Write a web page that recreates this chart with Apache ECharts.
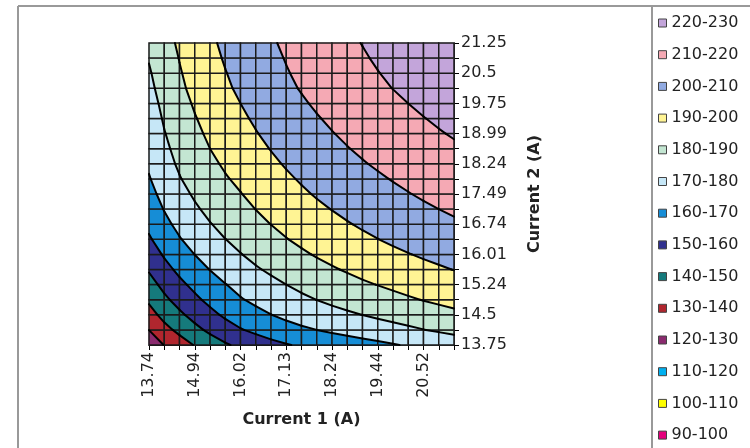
<!DOCTYPE html>
<html><head><meta charset="utf-8">
<script src="https://cdn.jsdelivr.net/npm/echarts@6/dist/echarts.min.js"></script>
<style>html,body{margin:0;padding:0;background:#fff}#c{width:750px;height:448px}</style>
</head><body><div id="c"></div>
<script>
// Tick labels
const xTickLabels = ['13.74','14.94','16.02','17.13','18.24','19.44','20.52'];
const yTickLabels = ['13.75','14.5','15.24','16.01','16.74','17.49','18.24','18.99','19.75','20.5','21.25'];
// Contour bands
const levels = [90,100,110,120,130,140,150,160,170,180,190,200,210,220,230];
const bandLabels = ['90-100','100-110','110-120','120-130','130-140','140-150','150-160','160-170','170-180','180-190','190-200','200-210','210-220','220-230'];
const bandColors = ['#E4007C','#FFFF00','#00B0F0','#8A2A6E','#B0262E','#157A7C','#30308E','#168DD6','#C6E7F7','#C3E6D2','#FFF494','#91AAE1','#F5A9B4','#C3A5DA'];
// Surface values, one row per Current 2 step (bottom -> top), columns = Current 1 steps
const r00 = [123.5,130.3,135.5,140.5,144.9,148.9,152.1,154.8,157.3,159.4,161.2,162.7,164.0,165.3,166.7,168.0,169.4,170.8,172.2,173.6,175.0];
const r01 = [130.1,137.0,142.4,147.4,152.0,156.0,159.4,162.0,164.5,166.6,168.5,170.0,171.5,172.9,174.3,175.7,177.0,178.4,179.8,181.1,182.4];
const r02 = [136.2,143.0,148.3,153.2,157.6,161.5,164.9,167.5,169.9,172.1,174.0,175.6,177.2,178.7,180.1,181.5,182.9,184.2,185.6,186.9,188.1];
const r03 = [141.6,148.1,153.4,158.1,162.3,166.0,169.3,171.9,174.3,176.4,178.4,180.1,181.8,183.3,184.8,186.2,187.6,189.0,190.3,191.5,192.7];
const r04 = [146.4,152.6,157.9,162.3,166.2,169.7,172.9,175.5,177.8,180.0,182.0,183.8,185.6,187.2,188.8,190.2,191.6,192.9,194.2,195.4,196.5];
const r05 = [150.9,157.0,162.1,166.4,170.2,173.5,176.5,179.1,181.4,183.6,185.6,187.5,189.2,190.8,192.4,193.8,195.2,196.5,197.8,199.0,200.2];
const r06 = [155.1,161.0,165.9,170.1,173.7,176.9,179.7,182.3,184.6,186.8,188.8,190.7,192.4,194.0,195.6,197.0,198.4,199.7,201.0,202.2,203.4];
const r07 = [158.9,164.7,169.4,173.4,176.9,179.9,182.6,185.2,187.5,189.7,191.7,193.5,195.3,196.9,198.5,199.9,201.3,202.6,203.9,205.1,206.2];
const r08 = [162.0,167.7,172.4,176.3,179.6,182.6,185.2,187.7,190.1,192.3,194.3,196.1,197.9,199.5,201.0,202.5,203.9,205.2,206.4,207.6,208.8];
const r09 = [164.7,170.4,175.0,178.8,182.1,185.0,187.5,190.1,192.5,194.6,196.6,198.5,200.2,201.8,203.4,204.8,206.2,207.6,208.8,210.0,211.2];
const r10 = [167.2,172.8,177.3,181.1,184.4,187.2,189.7,192.3,194.6,196.8,198.8,200.7,202.4,204.0,205.6,207.0,208.4,209.7,211.0,212.2,213.3];
const r11 = [169.4,175.0,179.5,183.2,186.5,189.3,191.7,194.3,196.6,198.8,200.8,202.7,204.4,206.0,207.6,209.0,210.4,211.7,213.0,214.2,215.4];
const r12 = [171.2,176.8,181.3,185.1,188.3,191.1,193.6,196.2,198.5,200.7,202.7,204.5,206.3,207.9,209.5,210.9,212.3,213.6,214.9,216.1,217.2];
const r13 = [172.6,178.2,182.8,186.7,190.0,192.8,195.4,197.9,200.3,202.4,204.4,206.3,208.0,209.7,211.2,212.7,214.0,215.4,216.6,217.8,219.0];
const r14 = [173.9,179.6,184.2,188.1,191.5,194.4,197.0,199.6,201.9,204.1,206.1,207.9,209.7,211.3,212.9,214.3,215.7,217.0,218.3,219.5,220.6];
const r15 = [175.1,180.9,185.6,189.5,192.9,195.9,198.6,201.1,203.5,205.6,207.6,209.5,211.2,212.9,214.4,215.9,217.2,218.6,219.8,221.0,222.2];
const r16 = [176.4,182.2,186.9,190.9,194.3,197.3,200.0,202.6,204.9,207.1,209.1,211.0,212.7,214.3,215.9,217.3,218.7,220.0,221.3,222.5,223.6];
const r17 = [177.8,183.6,188.3,192.3,195.7,198.7,201.4,204.0,206.3,208.5,210.5,212.3,214.1,215.7,217.3,218.7,220.1,221.4,222.7,223.9,225.0];
const r18 = [179.1,184.6,189.3,193.3,196.7,199.7,202.4,205.0,207.3,209.5,211.5,213.3,215.1,216.8,218.3,219.8,221.2,222.5,223.8,225.0,226.2];
const r19 = [180.5,185.6,190.3,194.3,197.7,200.7,203.3,205.9,208.2,210.4,212.4,214.3,216.0,217.8,219.3,220.8,222.2,223.6,224.9,226.1,227.2];
const r20 = [182.0,186.7,191.4,195.3,198.6,201.6,204.2,206.8,209.1,211.3,213.3,215.1,216.9,218.7,220.2,221.7,223.1,224.6,225.9,227.1,228.2];
const surface = [r00,r01,r02,r03,r04,r05,r06,r07,r08,r09,r10,r11,r12,r13,r14,r15,r16,r17,r18,r19,r20];

const nx = surface[0].length - 1, ny = surface.length - 1;
const cells = [];
for (let j = 0; j < ny; j++) for (let i = 0; i < nx; i++) cells.push([i, j]);

function clip(poly, L, above) {
  const out = []; const n = poly.length; if (!n) return out;
  const ins = p => above ? p.v >= L : p.v <= L;
  for (let k = 0; k < n; k++) {
    const a = poly[k], b = poly[(k + 1) % n];
    const ia = ins(a), ib = ins(b);
    if (ia) out.push(a);
    if (ia !== ib) { const t = (L - a.v) / (b.v - a.v); out.push({x: a.x + t * (b.x - a.x), y: a.y + t * (b.y - a.y), v: L}); }
  }
  return out;
}
function cellPoly(i, j) {
  return [[i, j], [i + 1, j], [i + 1, j + 1], [i, j + 1]].map(c => ({x: c[0], y: c[1], v: surface[c[1]][c[0]]}));
}
function renderFill(params, api) {
  const i = api.value(0), j = api.value(1);
  const poly = cellPoly(i, j);
  const children = [];
  for (let k = 0; k < levels.length - 1; k++) {
    let p = clip(poly, levels[k], true);
    p = clip(p, levels[k + 1], false);
    if (p.length >= 3) children.push({type: 'polygon', shape: {points: p.map(q => api.coord([q.x, q.y]))},
      style: {fill: bandColors[k], stroke: bandColors[k], lineWidth: 0.6}});
  }
  const p0 = api.coord([i, j]), p1 = api.coord([i + 1, j + 1]);
  children.push({type: 'rect', shape: {x: p0[0], y: p1[1], width: p1[0] - p0[0], height: p0[1] - p1[1]},
    style: {fill: null, stroke: '#1a1a1a', lineWidth: 1.5}});
  return {type: 'group', children};
}
const edgesIdx = [[0, 1], [1, 2], [2, 3], [3, 0]];
function renderLines(params, api) {
  const i = api.value(0), j = api.value(1);
  const poly = cellPoly(i, j);
  const children = [];
  for (let k = 1; k < levels.length - 1; k++) {
    const L = levels[k]; const pts = [];
    edgesIdx.forEach(([a, b]) => {
      const A = poly[a], B = poly[b];
      if ((A.v >= L) !== (B.v >= L)) { const t = (L - A.v) / (B.v - A.v); pts.push(api.coord([A.x + t * (B.x - A.x), A.y + t * (B.y - A.y)])); }
    });
    for (let m = 0; m + 1 < pts.length; m += 2) children.push({type: 'line', shape: {x1: pts[m][0], y1: pts[m][1], x2: pts[m + 1][0], y2: pts[m + 1][1]},
      style: {stroke: '#000', lineWidth: 2, lineCap: 'round'}});
  }
  return {type: 'group', children};
}

const FONT = 'DejaVu Sans, Verdana, sans-serif';
const legendSeries = bandLabels.map((name, k) => ({type: 'line', name, data: [], itemStyle: {color: bandColors[k]}}));
const chart = echarts.init(document.getElementById('c'), null, {renderer: 'canvas'});
chart.setOption({
  animation: false,
  backgroundColor: '#fff',
  textStyle: {fontFamily: FONT},
  grid: {left: 149, right: 296, top: 43, bottom: 103, containLabel: false, outerBoundsMode: 'none'},
  xAxis: {type: 'value', min: 0, max: 20, interval: 1, position: 'bottom',
    axisLine: {show: true, onZero: false, lineStyle: {color: '#000', width: 1}},
    axisTick: {show: true, length: 5, lineStyle: {color: '#000'}},
    splitLine: {show: false},
    axisLabel: {rotate: 90, fontSize: 16, color: '#222', margin: 7, fontFamily: FONT,
      formatter: v => { const r = Math.round(v); return r % 3 === 0 && xTickLabels[r / 3] !== undefined ? xTickLabels[r / 3] : ''; }},
    name: 'Current 1 (A)', nameLocation: 'middle', nameGap: 67,
    nameTextStyle: {fontWeight: 'bold', fontSize: 16, color: '#222', fontFamily: FONT}},
  yAxis: {type: 'value', min: 0, max: 20, interval: 1, position: 'right',
    axisLine: {show: true, onZero: false, lineStyle: {color: '#000', width: 1}},
    axisTick: {show: true, length: 5, lineStyle: {color: '#000'}},
    splitLine: {show: false},
    axisLabel: {fontSize: 16, color: '#222', margin: 7, fontFamily: FONT,
      formatter: v => { const r = Math.round(v); return r % 2 === 0 && yTickLabels[r / 2] !== undefined ? yTickLabels[r / 2] : ''; }},
    name: 'Current 2 (A)', nameLocation: 'middle', nameGap: 73, nameRotate: 90,
    nameTextStyle: {fontWeight: 'bold', fontSize: 16, color: '#222', fontFamily: FONT}},
  legend: {orient: 'vertical', left: 658, top: 15, padding: 0, itemWidth: 8, itemHeight: 8, itemGap: 15.7, icon: 'rect',
    data: bandLabels.slice().reverse(),
    itemStyle: {borderColor: '#444', borderWidth: 1},
    textStyle: {fontSize: 16, color: '#222', lineHeight: 16, fontFamily: FONT}},
  graphic: [
    {type: 'line', shape: {x1: 18, y1: 6, x2: 750, y2: 6}, style: {stroke: '#999', lineWidth: 2}},
    {type: 'line', shape: {x1: 18, y1: 6, x2: 18, y2: 448}, style: {stroke: '#999', lineWidth: 2}},
    {type: 'line', shape: {x1: 652, y1: 6, x2: 652, y2: 448}, style: {stroke: '#999', lineWidth: 2}}
  ],
  series: [
    {type: 'custom', name: 'fill', coordinateSystem: 'cartesian2d', renderItem: renderFill, data: cells, encode: {x: 0, y: 1}, z: 2, silent: true},
    {type: 'custom', name: 'contours', coordinateSystem: 'cartesian2d', renderItem: renderLines, data: cells, encode: {x: 0, y: 1}, z: 3, silent: true}
  ].concat(legendSeries)
});
</script></body></html>
